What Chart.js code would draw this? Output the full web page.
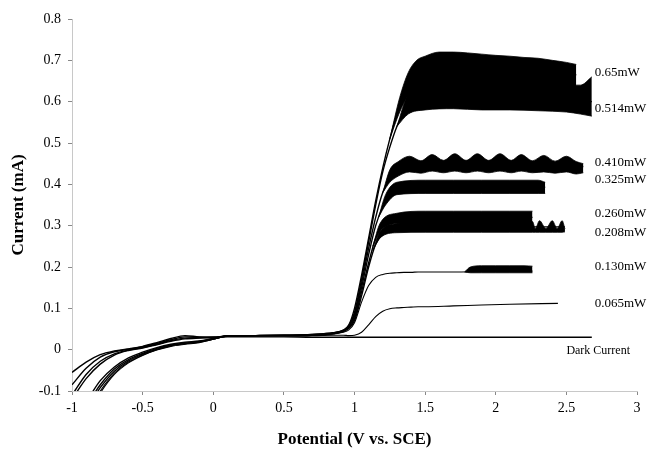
<!DOCTYPE html>
<html>
<head>
<meta charset="utf-8">
<script src="https://cdn.jsdelivr.net/npm/chart.js@4/dist/chart.umd.min.js"></script>
<style>
  html, body { margin: 0; padding: 0; background: #fff; }
  #wrap { width: 650px; height: 453px; }
</style>
</head>
<body>
<div id="wrap"><canvas id="chart"></canvas></div>
<script>
// potential grid (V vs. SCE) shared by all curves
const xGrid = [-1, -0.9, -0.8, -0.7, -0.6, -0.5, -0.4, -0.3, -0.2, -0.1, 0, 0.1, 0.3, 0.5, 0.7, 0.85, 0.92, 0.96,
  1.0, 1.05, 1.1, 1.15, 1.2, 1.25, 1.3, 1.35, 1.4, 1.45, 1.5, 1.7, 1.9, 2.1];

// mean current (mA) for each illumination power
const p650 = [-0.055, -0.03, -0.012, -0.003, 0.002, 0.008, 0.017, 0.027, 0.034, 0.031, 0.03, 0.033, 0.034, 0.035, 0.037, 0.041, 0.047, 0.06,
  0.1, 0.18, 0.27, 0.36, 0.44, 0.51, 0.57, 0.62, 0.65, 0.668, 0.675, 0.68, 0.675, 0.67];
const p514 = [-0.085, -0.045, -0.018, -0.005, 0.001, 0.007, 0.015, 0.024, 0.031, 0.03, 0.03, 0.033, 0.034, 0.035, 0.037, 0.041, 0.047, 0.058,
  0.09, 0.17, 0.26, 0.35, 0.43, 0.49, 0.54, 0.575, 0.595, 0.605, 0.61, 0.61, 0.61, 0.605];
const p410 = [-0.11, -0.06, -0.028, -0.01, -0.001, 0.005, 0.013, 0.022, 0.028, 0.029, 0.03, 0.033, 0.034, 0.035, 0.036, 0.04, 0.046, 0.056,
  0.085, 0.16, 0.245, 0.32, 0.38, 0.415, 0.43, 0.438, 0.44, 0.442, 0.443, 0.445, 0.445, 0.445];
const p325 = [-0.16, -0.125, -0.075, -0.042, -0.02, -0.006, 0.005, 0.013, 0.018, 0.021, 0.027, 0.033, 0.034, 0.034, 0.035, 0.039, 0.045, 0.055,
  0.08, 0.15, 0.23, 0.3, 0.345, 0.37, 0.38, 0.385, 0.388, 0.389, 0.39, 0.392, 0.393, 0.393];
const p260 = [-0.17, -0.135, -0.085, -0.047, -0.024, -0.009, 0.003, 0.011, 0.016, 0.02, 0.026, 0.033, 0.034, 0.034, 0.035, 0.039, 0.044, 0.053,
  0.075, 0.14, 0.21, 0.27, 0.3, 0.312, 0.316, 0.318, 0.319, 0.32, 0.32, 0.32, 0.32, 0.32];
const p208 = [-0.18, -0.145, -0.092, -0.052, -0.027, -0.011, 0.001, 0.01, 0.015, 0.019, 0.026, 0.033, 0.034, 0.034, 0.035, 0.039, 0.044, 0.052,
  0.07, 0.13, 0.2, 0.255, 0.28, 0.29, 0.293, 0.295, 0.296, 0.297, 0.297, 0.297, 0.297, 0.297];
const p130 = [-0.19, -0.155, -0.1, -0.057, -0.03, -0.013, 0.0, 0.009, 0.014, 0.018, 0.025, 0.033, 0.034, 0.034, 0.035, 0.038, 0.042, 0.048,
  0.065, 0.115, 0.155, 0.175, 0.182, 0.185, 0.186, 0.187, 0.187, 0.188, 0.188, 0.188, 0.189, 0.19];
const p065 = [-0.2, -0.165, -0.105, -0.06, -0.032, -0.014, -0.001, 0.008, 0.013, 0.017, 0.025, 0.033, 0.034, 0.034, 0.034, 0.035, 0.035, 0.034,
  0.035, 0.042, 0.06, 0.08, 0.093, 0.099, 0.101, 0.102, 0.103, 0.104, 0.104, 0.106, 0.108, 0.11];
const dark = [-0.12, -0.07, -0.035, -0.013, -0.002, 0.004, 0.012, 0.02, 0.026, 0.028, 0.029, 0.031, 0.031, 0.031, 0.03, 0.03, 0.03, 0.03,
  0.03, 0.03, 0.03, 0.03, 0.03, 0.03, 0.03, 0.03, 0.03, 0.03, 0.03, 0.03, 0.03, 0.03];

const curveNames = ["0.65mW", "0.514mW", "0.410mW", "0.325mW", "0.260mW", "0.208mW", "0.130mW", "0.065mW", "Dark Current"];
const curveEndX = [2.57, 2.68, 2.62, 2.35, 2.26, 2.49, 2.26, 2.44, 2.68];
const curveEndY = [0.665, 0.6, 0.443, 0.393, 0.32, 0.297, 0.19, 0.112, 0.03];

// noise envelopes on the plateaus (upper / lower current)
const b650X = [1.25, 1.32, 1.38, 1.44, 1.5, 1.6, 1.7, 1.8, 1.9, 2.0, 2.1, 2.2, 2.3, 2.4, 2.5, 2.57];
const b650Up = [0.51, 0.61, 0.67, 0.7, 0.71, 0.72, 0.72, 0.718, 0.715, 0.712, 0.71, 0.707, 0.705, 0.7, 0.695, 0.69];
const b650Lo = [0.51, 0.575, 0.615, 0.632, 0.64, 0.645, 0.645, 0.645, 0.64, 0.64, 0.64, 0.64, 0.635, 0.635, 0.635, 0.635];
const b514X = [1.3, 1.38, 1.5, 1.7, 1.9, 2.1, 2.3, 2.5, 2.6, 2.68];
const b514Up = [0.54, 0.62, 0.645, 0.648, 0.645, 0.645, 0.64, 0.64, 0.64, 0.66];
const b514Lo = [0.54, 0.57, 0.58, 0.583, 0.58, 0.58, 0.578, 0.575, 0.57, 0.565];
const b410X = [1.2, 1.25, 1.31, 1.39, 1.47, 1.55, 1.63, 1.71, 1.79, 1.87, 1.95, 2.03, 2.11, 2.18, 2.26, 2.34, 2.42, 2.5, 2.57, 2.62];
const b410Up = [0.38, 0.435, 0.455, 0.468, 0.457, 0.472, 0.458, 0.474, 0.458, 0.474, 0.458, 0.474, 0.458, 0.472, 0.457, 0.47, 0.456, 0.468, 0.455, 0.45];
const b410Lo = [0.38, 0.405, 0.42, 0.43, 0.427, 0.432, 0.428, 0.432, 0.428, 0.432, 0.428, 0.432, 0.428, 0.432, 0.428, 0.43, 0.427, 0.43, 0.425, 0.428];
const b325X = [1.17, 1.22, 1.3, 1.5, 1.7, 1.9, 2.1, 2.3, 2.35];
const b325Up = [0.32, 0.375, 0.405, 0.41, 0.41, 0.41, 0.41, 0.41, 0.405];
const b325Lo = [0.32, 0.35, 0.375, 0.378, 0.378, 0.378, 0.378, 0.378, 0.378];
const b260X = [1.13, 1.18, 1.3, 1.5, 1.7, 1.9, 2.1, 2.26];
const b260Up = [0.25, 0.305, 0.33, 0.335, 0.335, 0.335, 0.335, 0.335];
const b260Lo = [0.25, 0.285, 0.305, 0.307, 0.307, 0.307, 0.307, 0.305];
const b208X = [1.13, 1.18, 1.3, 1.5, 1.7, 1.9, 2.1, 2.26, 2.28, 2.31, 2.355, 2.4, 2.435, 2.47, 2.49];
const b208Up = [0.24, 0.285, 0.305, 0.31, 0.31, 0.31, 0.31, 0.31, 0.293, 0.312, 0.293, 0.312, 0.293, 0.312, 0.292];
const b208Lo = [0.24, 0.27, 0.283, 0.284, 0.284, 0.284, 0.284, 0.284, 0.284, 0.284, 0.284, 0.284, 0.284, 0.284, 0.285];
const b130X = [1.78, 1.82, 1.9, 2.0, 2.1, 2.2, 2.26];
const b130Up = [0.188, 0.2, 0.203, 0.203, 0.203, 0.203, 0.202];
const b130Lo = [0.188, 0.186, 0.186, 0.186, 0.186, 0.186, 0.186];

const xTicks = [-1, -0.5, 0, 0.5, 1, 1.5, 2, 2.5, 3];
const yTicks = [-0.1, 0, 0.1, 0.2, 0.3, 0.4, 0.5, 0.6, 0.7, 0.8];

// where the power labels sit (data units)
const labelX = [2.7, 2.7, 2.7, 2.7, 2.7, 2.7, 2.7, 2.7, 2.5];
const labelY = [0.671, 0.584, 0.453, 0.412, 0.329, 0.283, 0.2, 0.111, -0.003];

const curves = [p650, p514, p410, p325, p260, p208, p130, p065, dark];
const bands = [[b650X, b650Up, b650Lo], [b514X, b514Up, b514Lo], [b410X, b410Up, b410Lo], [b325X, b325Up, b325Lo],
  [b260X, b260Up, b260Lo], [b208X, b208Up, b208Lo], [b130X, b130Up, b130Lo]];

function pts(xs, ys) {
  return xs.map((x, i) => ({ x: x, y: ys[i] }));
}

const datasets = [];
curves.forEach((ys, i) => {
  const data = pts(xGrid, ys);
  data.push({ x: curveEndX[i], y: curveEndY[i] });
  datasets.push({
    label: curveNames[i],
    data: data,
    borderColor: "#000",
    borderWidth: i === 7 || i === 6 ? 1.1 : 1.4,
    pointRadius: 0,
    cubicInterpolationMode: "monotone",
    fill: false,
  });
});
bands.forEach((b) => {
  datasets.push({ data: pts(b[0], b[1]), borderColor: "#000", borderWidth: 0.8, pointRadius: 0,
    cubicInterpolationMode: "monotone", fill: false });
  datasets.push({ data: pts(b[0], b[2]), borderColor: "#000", borderWidth: 0.8, pointRadius: 0,
    cubicInterpolationMode: "monotone", fill: "-1", backgroundColor: "#000" });
});

const serif = "'Liberation Serif', 'Times New Roman', serif";

const labelPlugin = {
  id: "powerLabels",
  afterDatasetsDraw(chart) {
    const ctx = chart.ctx;
    const xs = chart.scales.x, ys = chart.scales.y;
    ctx.save();
    ctx.fillStyle = "#000";
    ctx.textBaseline = "middle";
    ctx.textAlign = "left";
    curveNames.forEach((name, i) => {
      ctx.font = (i === 8 ? "12px " : "13px ") + serif;
      ctx.fillText(name, xs.getPixelForValue(labelX[i]), ys.getPixelForValue(labelY[i]));
    });
    ctx.restore();
  },
};

new Chart(document.getElementById("chart"), {
  type: "line",
  data: { datasets: datasets },
  options: {
    responsive: true,
    maintainAspectRatio: false,
    animation: false,
    layout: { padding: { top: 19, right: 13, left: 0, bottom: 0 } },
    plugins: { legend: { display: false }, tooltip: { enabled: false } },
    scales: {
      x: {
        type: "linear",
        min: -1,
        max: 3,
        afterFit: (s) => { s.height = 62; },
        afterBuildTicks: (s) => { s.ticks = xTicks.map((v) => ({ value: v })); },
        border: { color: "#c8c8c8", width: 1 },
        grid: { drawOnChartArea: false, color: "#888", tickLength: 4 },
        ticks: { color: "#000", font: { family: serif, size: 14 }, padding: 5, callback: (v) => String(+v.toFixed(1)) },
        title: { display: true, text: "Potential (V vs. SCE)", color: "#000",
          font: { family: serif, size: 17, weight: "bold" }, padding: { top: 0, bottom: 3 } },
      },
      y: {
        type: "linear",
        min: -0.1,
        max: 0.8,
        afterFit: (s) => { s.width = 72; },
        afterBuildTicks: (s) => { s.ticks = yTicks.map((v) => ({ value: v })); },
        border: { color: "#c8c8c8", width: 1 },
        grid: { drawOnChartArea: false, color: "#888", tickLength: 4 },
        ticks: { color: "#000", font: { family: serif, size: 14 }, padding: 7, callback: (v) => String(+v.toFixed(1)) },
        title: { display: true, text: "Current (mA)", color: "#000",
          font: { family: serif, size: 17, weight: "bold" }, padding: { top: 8, bottom: 0 } },
      },
    },
  },
  plugins: [labelPlugin],
});
</script>
</body>
</html>
